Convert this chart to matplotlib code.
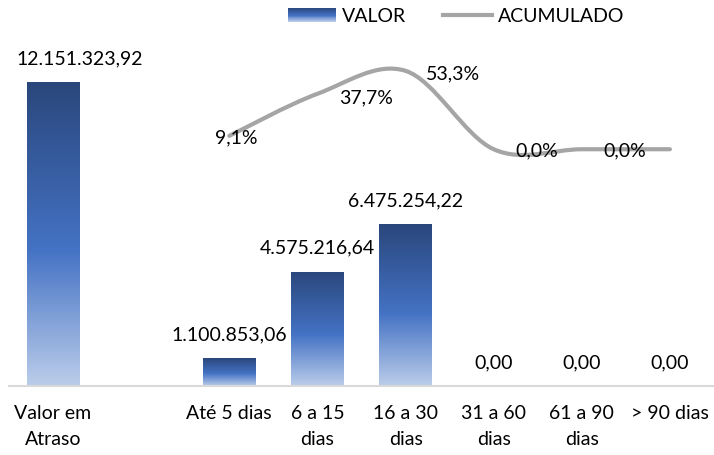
import numpy as np
import matplotlib
matplotlib.use('Agg')
import matplotlib.pyplot as plt
from matplotlib.colors import LinearSegmentedColormap
from matplotlib.path import Path
from matplotlib.patches import PathPatch, Rectangle
from matplotlib.legend_handler import HandlerBase
from matplotlib.lines import Line2D

plt.rcParams['font.family'] = ['Lato', 'DejaVu Sans']
plt.rcParams['font.size'] = 14

# data
categories = ['Valor em\nAtraso', '', 'Até 5 dias', '6 a 15\ndias', '16 a 30\ndias',
              '31 a 60\ndias', '61 a 90\ndias', '> 90 dias']
valor = [12151323.92, np.nan, 1100853.06, 4575216.64, 6475254.22, 0.0, 0.0, 0.0]
acumulado = [np.nan, np.nan, 0.091, 0.377, 0.533, 0.0, 0.0, 0.0]
acum_labels = ['', '', '9,1%', '37,7%', '53,3%', '0,0%', '0,0%', '']

# label offsets (points)
valor_offsets = [(19, 17)] + [(0, 17)] * 7
acum_offsets = [(0, 0), (0, 0), (5, -1.5), (35, -3), (34, -2), (31, -1), (31, -1.5), (0, 0)]

cmap = LinearSegmentedColormap.from_list(
    'barras', [(0, '#BBCDEA'), (0.45, '#4472C4'), (1, '#2A477C')])
line_color = '#A5A5A5'


def fmt_br(v):
    s = f'{v:,.2f}'
    return s.replace(',', 'X').replace('.', ',').replace('X', '.')


def smooth_path(xs, ys):
    pts = np.column_stack([xs, ys])
    n = len(pts)
    verts = [pts[0]]
    codes = [Path.MOVETO]
    for i in range(n - 1):
        p0 = pts[max(i - 1, 0)]
        p1 = pts[i]
        p2 = pts[i + 1]
        p3 = pts[min(i + 2, n - 1)]
        verts += [p1 + (p2 - p0) / 6, p2 - (p3 - p1) / 6, p2]
        codes += [Path.CURVE4] * 3
    return Path(verts, codes)


class GradientHandler(HandlerBase):
    def create_artists(self, legend, orig_handle, xdescent, ydescent,
                       width, height, fontsize, trans):
        n = 30
        arts = []
        for i in range(n):
            r = Rectangle((-xdescent, -ydescent + height * i / n), width, height / n * 1.05,
                          facecolor=cmap((i + 0.5) / n), edgecolor='none', transform=trans)
            arts.append(r)
        return arts


fig = plt.figure(figsize=(7.14, 4.55), dpi=100)
ax = fig.add_axes([9 / 714, 69 / 455, 705 / 714, 350 / 455])
x = np.arange(len(categories))

vals = np.nan_to_num(np.array(valor))
bars = ax.bar(x, vals, width=0.6, facecolor='none', edgecolor='none')
grad = np.linspace(0, 1, 256).reshape(-1, 1)
for b in bars:
    h = b.get_height()
    if h <= 0:
        continue
    im = ax.imshow(grad, cmap=cmap, extent=[b.get_x(), b.get_x() + b.get_width(), 0, h],
                   origin='lower', aspect='auto', zorder=2)
    im.set_clip_path(b)

for xi, v, off in zip(x, valor, valor_offsets):
    if np.isnan(v):
        continue
    ax.annotate(fmt_br(v), (xi, v), xytext=off, textcoords='offset points',
                ha='center', va='center', fontsize=14)

ax.set_xlim(-0.5, len(categories) - 0.5)
ax.set_ylim(0, 14e6)
ax.set_xticks(x)
ax.set_xticklabels(categories, linespacing=1.6)
ax.tick_params(axis='x', length=0, pad=14)
ax.set_yticks([])
for s in ['top', 'left', 'right']:
    ax.spines[s].set_visible(False)
ax.spines['bottom'].set_color('#D9D9D9')
ax.spines['bottom'].set_linewidth(1.5)

ax2 = ax.twinx()
ax2.set_ylim(-1.61, 0.77)
ax2.set_yticks([])
for s in ax2.spines.values():
    s.set_visible(False)

acum = np.array(acumulado)
ok = ~np.isnan(acum)
path = smooth_path(x[ok], acum[ok])
ax2.add_patch(PathPatch(path, facecolor='none', edgecolor=line_color, linewidth=3,
                        capstyle='round', joinstyle='round'))
for xi, v, lbl, off in zip(x, acumulado, acum_labels, acum_offsets):
    if lbl:
        ax2.annotate(lbl, (xi, v), xytext=off, textcoords='offset points',
                     ha='center', va='center', fontsize=14)

h_bar = Rectangle((0, 0), 1, 1)
h_line = Line2D([0], [0], color=line_color, linewidth=3)
fig.legend([h_bar, h_line], ['VALOR', 'ACUMULADO'], handler_map={h_bar: GradientHandler()},
           loc='center', bbox_to_anchor=(456 / 714, 1 - 16 / 455), ncol=2, frameon=False,
           handlelength=2.5, handletextpad=0.3, columnspacing=1.9, fontsize=14)

fig.savefig('out.png', dpi=100)
